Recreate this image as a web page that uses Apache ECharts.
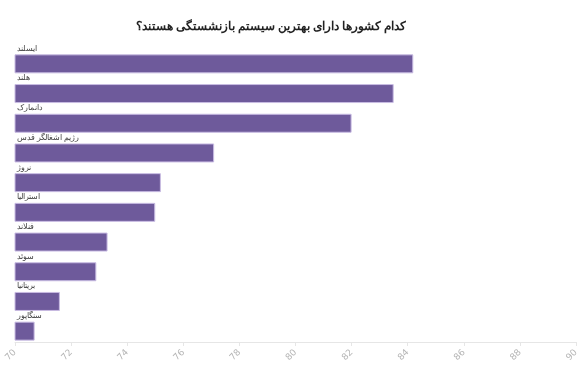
<!DOCTYPE html>
<html><head><meta charset="utf-8">
<script src="https://cdn.jsdelivr.net/npm/echarts@6/dist/echarts.min.js"></script>
<style>html,body{margin:0;padding:0;background:#fff}#c{width:583px;height:376px}</style>
</head><body><div id="c"></div>
<script>
const titleText = 'کدام کشورها دارای بهترین سیستم بازنشستگی هستند؟';
const countries = ['ایسلند','هلند','دانمارک','رژیم اشغالگر قدس','نروژ','استرالیا','فنلاند','سوئد','بریتانیا','سنگاپور'];
const scores = [84.2, 83.5, 82.0, 77.1, 75.2, 75.0, 73.3, 72.9, 71.6, 70.7];
const xTicks = [70, 72, 74, 76, 78, 80, 82, 84, 86, 88, 90];

const chart = echarts.init(document.getElementById('c'));
chart.setOption({
  animation: false,
  title: {
    text: titleText, left: 266, top: 16, textAlign: 'center',
    textStyle: {fontFamily: 'Roboto', fontSize: 12, fontWeight: 'bold', color: '#222'}
  },
  grid: {left: 15, right: 7, top: 49, height: 297},
  xAxis: {
    type: 'value', min: xTicks[0], max: xTicks[xTicks.length-1], interval: 2, offset: -4,
    axisLine: {show: true, lineStyle: {color: '#e6e6e6'}},
    axisTick: {show: true, length: 4, lineStyle: {color: '#e6e6e6'}},
    splitLine: {show: false},
    axisLabel: {rotate: 45, fontSize: 9, color: '#b5b5b5', margin: 9, fontFamily: 'DejaVu Sans'}
  },
  yAxis: {
    type: 'category', data: countries, inverse: true,
    axisLine: {show: false}, axisTick: {show: false},
    axisLabel: {
      inside: true, align: 'left', verticalAlign: 'bottom', margin: 2,
      padding: [0, 0, 11, 0], fontSize: 7.5, color: '#444', fontFamily: 'Roboto'
    }
  },
  series: [{
    type: 'bar', data: scores, barWidth: 19,
    itemStyle: {color: '#6e5a9b', borderColor: '#c9bce3', borderWidth: 1}
  }]
});
</script></body></html>
